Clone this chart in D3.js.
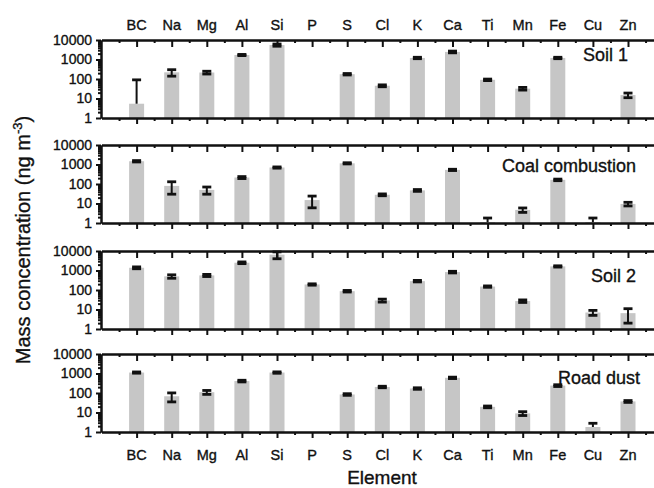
<!DOCTYPE html>
<html>
<head>
<meta charset="utf-8">
<script src="https://cdn.jsdelivr.net/npm/d3@7"></script>
<style>
  html, body { margin: 0; padding: 0; background: #fff; }
  svg { display: block; font-family: "Liberation Sans", Arial, sans-serif; }
  svg text { stroke: #111; stroke-width: 0.35px; }
</style>
</head>
<body>
<div id="chart"></div>
<script>
// ---------------- data ----------------
const elements = ["BC","Na","Mg","Al","Si","P","S","Cl","K","Ca","Ti","Mn","Fe","Cu","Zn"];
const panelNames = ["Soil 1","Coal combustion","Soil 2","Road dust"];
const yTickValues = [1, 10, 100, 1000, 10000];

const soil1Values = [5.4, 220, 215, 1700, 5500, null, 176, 45, 1200, 2450, 91, 32, 1200, null, 15];
const soil1Errors = [85, 80, 35, 120, 700, null, 15, 5, 100, 250, 8, 5, 100, null, 4];

const coalValues = [1470, 80, 50, 215, 700, 15, 1150, 28, 47, 530, 1.1, 4.7, 163, 1.1, 9.5];
const coalErrors = [120, 50, 20, 25, 50, 9, 80, 3, 5, 40, 0.7, 1.2, 15, 0.7, 2];

const soil2Values = [1380, 500, 560, 2500, 6500, 192, 87, 29, 285, 830, 150, 27, 1620, 7, 6.5];
const soil2Errors = [150, 100, 70, 250, 2500, 15, 8, 5, 25, 80, 12, 4, 120, 2, 4.5];

const roadValues = [1120, 68, 110, 410, 1120, null, 84, 204, 170, 600, 19.5, 9, 240, 1.8, 37];
const roadErrors = [80, 33, 25, 40, 90, null, 8, 18, 15, 50, 2, 2, 25, 1.0, 4];

const panelValues = [soil1Values, coalValues, soil2Values, roadValues];
const panelErrors = [soil1Errors, coalErrors, soil2Errors, roadErrors];

// ---------------- layout ----------------
const W = 654, H = 488;
const panelTops = [40, 145, 251, 354];
const panelHeight = 78;
const axisX = 101;
const barW = 15;
const labelRight = [628, 636, 636, 640];
const labelBase = [61, 172, 282, 384];

const svg = d3.select("#chart").append("svg")
  .attr("width", W).attr("height", H);

const x = d3.scaleLinear().domain([-1, 15]).range([101.5, 663.1]);
const catIdx = d3.range(elements.length);
const halfIdx = d3.range(-0.5, 15.5, 1);

panelNames.forEach((name, p) => {
  const top = panelTops[p], bottom = top + panelHeight;
  const y = d3.scaleLog().domain([1, 10000]).range([bottom, top]).clamp(true);
  const g = svg.append("g");

  // bars
  const vals = panelValues[p], errs = panelErrors[p];
  g.selectAll("rect.bar").data(catIdx.filter(i => vals[i] != null))
    .join("rect").attr("class", "bar")
    .attr("x", i => x(i) - barW / 2)
    .attr("width", barW)
    .attr("y", i => y(vals[i]))
    .attr("height", i => y(1) - y(vals[i]))
    .attr("fill", "#c6c6c6");

  // error bars
  catIdx.filter(i => vals[i] != null).forEach(i => {
    const v = vals[i], e = errs[i];
    const hi = v + e, lo = v - e;
    const yHi = y(hi);
    const hasLo = lo >= 1;
    const yLo = hasLo ? y(lo) : y(v);
    const cx = x(i);
    g.append("line").attr("x1", cx).attr("x2", cx).attr("y1", yHi).attr("y2", yLo)
      .attr("stroke", "#111").attr("stroke-width", 2);
    g.append("line").attr("x1", cx - 4.5).attr("x2", cx + 4.5).attr("y1", yHi).attr("y2", yHi)
      .attr("stroke", "#111").attr("stroke-width", 2.8);
    if (hasLo) {
      g.append("line").attr("x1", cx - 4.5).attr("x2", cx + 4.5).attr("y1", yLo).attr("y2", yLo)
        .attr("stroke", "#111").attr("stroke-width", 2.8);
    }
  });

  // top frame line with inward ticks
  const topAxis = d3.axisBottom(x).tickValues([...catIdx]).tickSize(7).tickFormat("").tickSizeOuter(0);
  g.append("g").attr("transform", `translate(0,${top})`).call(topAxis);
  const topMinor = d3.axisBottom(x).tickValues(halfIdx).tickSize(3).tickFormat("").tickSizeOuter(0);
  g.append("g").attr("transform", `translate(0,${top})`).call(topMinor);

  // bottom line with outward ticks
  const botAxis = d3.axisBottom(x).tickValues([...catIdx]).tickSize(6).tickFormat("").tickSizeOuter(0);
  g.append("g").attr("transform", `translate(0,${bottom})`).call(botAxis);
  const botMinor = d3.axisBottom(x).tickValues(halfIdx).tickSize(3).tickFormat("").tickSizeOuter(0);
  g.append("g").attr("transform", `translate(0,${bottom})`).call(botMinor);

  // left axis
  const leftAxis = d3.axisLeft(y).tickValues(yTickValues).tickSize(5).tickSizeOuter(0)
    .tickFormat(d3.format("d"));
  const la = g.append("g").attr("transform", `translate(${axisX},0)`).call(leftAxis);
  la.selectAll("text").attr("font-size", 14).attr("fill", "#111").attr("x", -9)
    .attr("font-family", "'Liberation Sans', Arial, sans-serif");
  const minorVals = [];
  [1, 10, 100, 1000].forEach(d => { for (let k = 2; k <= 9; k++) minorVals.push(d * k); });
  const leftMinor = d3.axisLeft(y).tickValues(minorVals).tickSize(3).tickFormat("").tickSizeOuter(0);
  g.append("g").attr("transform", `translate(${axisX},0)`).call(leftMinor);

  g.selectAll(".domain").attr("stroke", "#111").attr("stroke-width", 2);
  g.selectAll(".tick line").attr("stroke", "#111").attr("stroke-width", 2);

  // panel label
  g.append("text").attr("x", labelRight[p]).attr("y", labelBase[p])
    .attr("text-anchor", "end").attr("font-size", 18).attr("fill", "#111")
    .text(name);
});

// category labels top & bottom
svg.append("g").selectAll("text").data(catIdx).join("text")
  .attr("x", i => x(i)).attr("y", 30).attr("text-anchor", "middle")
  .attr("font-size", 14.5).attr("fill", "#111").text(i => elements[i]);
svg.append("g").selectAll("text").data(catIdx).join("text")
  .attr("x", i => x(i)).attr("y", 460).attr("text-anchor", "middle")
  .attr("font-size", 14.5).attr("fill", "#111").text(i => elements[i]);

// axis titles
svg.append("text").attr("x", 382).attr("y", 484).attr("text-anchor", "middle")
  .attr("font-size", 19).attr("fill", "#111").text("Element");

const yt = svg.append("text")
  .attr("transform", "translate(30,240) rotate(-90)")
  .attr("text-anchor", "middle").attr("font-size", 20).attr("fill", "#111");
yt.append("tspan").text("Mass concentration (ng m");
yt.append("tspan").attr("dy", -8).attr("font-size", 13).text("-3");
yt.append("tspan").attr("dy", 8).text(")");
</script>
</body>
</html>
